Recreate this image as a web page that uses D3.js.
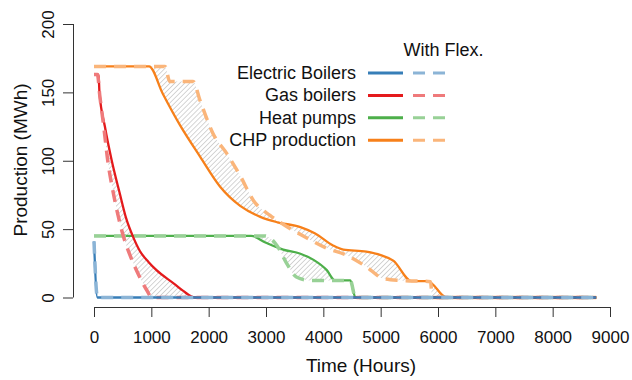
<!DOCTYPE html>
<html>
<head>
<script src="https://d3js.org/d3.v7.min.js"></script>
<style>
  body { margin: 0; background: #fff; }
  text { font-family: "Liberation Sans", Arial, sans-serif; fill: #111; }
</style>
</head>
<body>
<script>
// duration curves, [hours, MWh]
var series = ["Electric Boilers", "Gas boilers", "Heat pumps", "CHP production"];
var colors = ["#377eb8", "#e41a1c", "#4daf4a", "#f7801a"];

var elecBase = [[0, 41], [60, 0], [8760, 0]];
var elecFlex = [[0, 41], [60, 0], [8760, 0]];

var gasBase = [[0, 163], [80, 163], [95, 150], [190, 125], [310, 100], [450, 76], [560, 58],
  [680, 44.5], [800, 34], [950, 26], [1090, 20], [1400, 10], [1550, 5], [1760, 0], [8760, 0]];
var gasFlex = [[0, 163], [60, 163], [100, 148], [170, 125], [240, 100], [330, 78], [420, 60],
  [511, 45], [628, 31], [773, 17], [919, 5.5], [1010, 0], [8760, 0]];

var heatBase = [[0, 45], [2740, 45], [3000, 40], [3300, 35], [3600, 32], [3830, 27.5],
  [4060, 20], [4200, 12.5], [4470, 12.5], [4560, 0], [8760, 0]];
var heatFlex = [[0, 45], [2980, 45], [3190, 38], [3360, 25], [3530, 15], [3770, 12.5],
  [4470, 12.5], [4560, 0], [8760, 0]];

var chpBase = [[0, 169], [960, 169], [1200, 149], [1500, 126], [1850, 103], [2200, 81],
  [2550, 67], [2900, 59], [3200, 55], [3600, 51.5], [3850, 47], [4170, 38], [4350, 35],
  [4750, 33.5], [5000, 31], [5220, 27], [5540, 12], [5820, 12], [6150, 0], [8760, 0]];
var chpFlex = [[0, 169], [1240, 169], [1320, 158], [1730, 158], [1850, 144], [2075, 120],
  [2320, 105], [2550, 89], [2780, 71], [3070, 60], [3360, 52], [3650, 45], [4060, 36],
  [4400, 31], [4750, 22.5], [5040, 14], [5340, 12.5], [5870, 11.6], [5900, 0], [8760, 0]];

var xTicks = [0, 1000, 2000, 3000, 4000, 5000, 6000, 7000, 8000, 9000];
var yTicks = [0, 50, 100, 150, 200];

var W = 632, H = 380;
var svg = d3.select("body").append("svg").attr("width", W).attr("height", H);

var x = d3.scaleLinear().domain([0, 9000]).range([94, 610]);
var y = d3.scaleLinear().domain([0, 200]).range([297.5, 24]);

// lighter tint used for the "with flex" curves
function tint(c) { return d3.interpolateRgb(c, "#fff")(0.42); }

// hatch pattern
svg.append("defs").append("pattern")
  .attr("id", "hatch")
  .attr("patternUnits", "userSpaceOnUse")
  .attr("width", 3.5).attr("height", 3.5)
  .attr("patternTransform", "rotate(45)")
  .append("line")
  .attr("x1", 0).attr("y1", 0).attr("x2", 0).attr("y2", 3.5)
  .style("stroke", "#999").style("stroke-width", 0.8);

var line = d3.line()
  .x(function(d) { return x(d[0]); })
  .y(function(d) { return y(d[1]); })
  .curve(d3.curveMonotoneX);

var pairs = [
  {base: chpBase, flex: chpFlex, c: colors[3]},
  {base: heatBase, flex: heatFlex, c: colors[2]},
  {base: gasBase, flex: gasFlex, c: colors[1]},
  {base: elecBase, flex: elecFlex, c: colors[0]}
];

// shaded difference between normal and flexible operation
pairs.slice(0, 3).forEach(function(p) {
  var d = line(p.base) + line(p.flex.slice().reverse()).replace(/^M/, "L") + "Z";
  svg.append("path")
    .attr("d", d)
    .style("fill", "url(#hatch)")
    .style("stroke", "none");
});

pairs.forEach(function(p) {
  svg.append("path")
    .attr("d", line(p.base))
    .style("fill", "none")
    .style("stroke", p.c)
    .style("stroke-width", 2.3)
    .style("stroke-linejoin", "round");
  svg.append("path")
    .attr("d", line(p.flex))
    .style("fill", "none")
    .style("stroke", tint(p.c))
    .style("stroke-width", 3.5)
    .style("stroke-dasharray", "12,8");
});

// axes
var xAxis = svg.append("g").attr("transform", "translate(0,307)")
  .call(d3.axisBottom(x).tickValues(xTicks).tickSize(10).tickPadding(14).tickFormat(d3.format("d")));
var yAxis = svg.append("g").attr("transform", "translate(73,0)")
  .call(d3.axisLeft(y).tickValues(yTicks).tickSize(10).tickFormat(d3.format("d")));

[xAxis, yAxis].forEach(function(g) {
  g.select(".domain").attr("stroke", "#333");
  g.selectAll(".tick line").attr("stroke", "#333");
  g.selectAll("text").style("font-size", "17px").style("font-family", "Liberation Sans, Arial, sans-serif").attr("fill", "#111");
});
xAxis.select(".domain").attr("d", "M" + x(0) + ",0.5H" + x(9000));
yAxis.select(".domain").attr("d", "M0.5," + y(0) + "V" + y(200));

yAxis.selectAll(".tick text")
  .attr("x", 0).attr("dy", null)
  .attr("transform", "translate(-25,0) rotate(-90)")
  .attr("text-anchor", "middle")
  .attr("dominant-baseline", "central");

svg.append("text")
  .attr("x", 361).attr("y", 372)
  .attr("text-anchor", "middle")
  .style("font-size", "19px")
  .text("Time (Hours)");

svg.append("text")
  .attr("transform", "translate(27,160) rotate(-90)")
  .attr("text-anchor", "middle")
  .style("font-size", "19px")
  .text("Production (MWh)");

// legend
var leg = svg.append("g");
leg.append("text")
  .attr("x", 443.5).attr("y", 56)
  .attr("text-anchor", "middle")
  .style("font-size", "18px")
  .text("With Flex.");

series.forEach(function(s, i) {
  var ly = 73 + i * 22.4;
  leg.append("text")
    .attr("x", 356).attr("y", ly + 6)
    .attr("text-anchor", "end")
    .style("font-size", "18px")
    .text(s);
  leg.append("line")
    .attr("x1", 368).attr("x2", 403).attr("y1", ly).attr("y2", ly)
    .style("stroke", colors[i]).style("stroke-width", 3);
  leg.append("line")
    .attr("x1", 413).attr("x2", 446).attr("y1", ly).attr("y2", ly)
    .style("stroke", tint(colors[i]))
    .style("stroke-width", 3).style("stroke-dasharray", "12,8");
});
</script>
</body>
</html>
